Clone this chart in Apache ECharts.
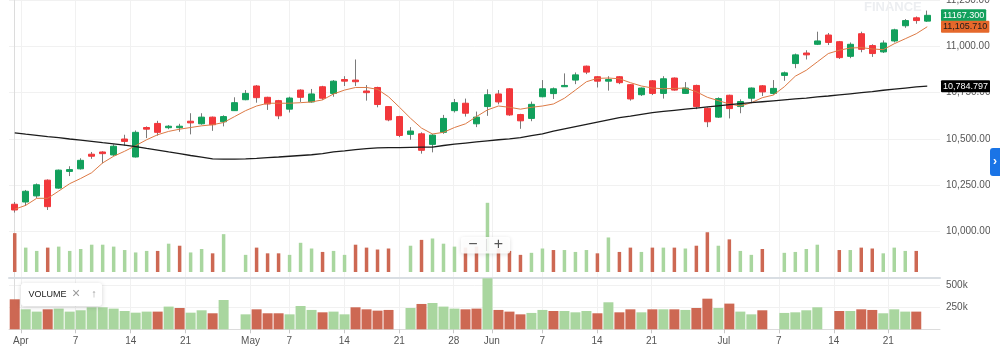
<!DOCTYPE html>
<html><head><meta charset="utf-8">
<script src="https://cdn.jsdelivr.net/npm/echarts@6.0.0/dist/echarts.min.js"></script>
<style>html,body{margin:0;padding:0;background:#fff;overflow:hidden}#c{width:1000px;height:357px}</style>
</head><body><div id="c"></div>
<script>
// ---- data (trading-day slots) ----
const tickLabels = ['Apr','7','14','21','May','7','14','21','28','Jun','7','14','21','Jul','7','14','21'];
const tickAt = [0.55,5.53,10.55,15.53,21.45,24.97,29.97,34.98,39.93,43.4,47.98,52.96,57.93,64.5,69.5,74.5,79.45];

const openP = [10148,10160,10193,10278,10235,10325,10339,10418,10430,10414,
 10500,10403,10562,10584,10561,10561,10596,10582,10618,10593,
 10653,10712,10786,10725,10707,10661,10764,10700,10782,10746,
 10821,10818,10759,10778,10675,10621,10525,10528,10471,10536,
 10653,10693,10582,10675,10743,10771,10632,10611,10728,10745,
 10782,10818,10893,10836,10812,10836,10793,10739,10814,10746,
 10829,10746,10789,10666,10618,10736,10675,10720,10787,10746,
 10843,10907,10964,11011,11061,11025,10946,11068,11004,10970,
 11029,11111,11154,11136];
const closeP = [10117,10218,10253,10135,10332,10335,10385,10407,10421,10461,
 10487,10536,10553,10536,10569,10569,10587,10618,10577,10621,
 10696,10746,10723,10689,10625,10721,10725,10743,10720,10812,
 10812,10809,10750,10686,10603,10519,10543,10439,10521,10611,
 10696,10639,10618,10739,10700,10630,10598,10687,10771,10771,
 10789,10846,10861,10812,10821,10804,10716,10775,10746,10825,
 10764,10775,10675,10593,10718,10664,10702,10775,10754,10773,
 10857,10954,10954,11029,11021,10939,11011,10984,10961,11018,
 11089,11139,11139,11167.3];
const lowP = [10103,10139,10182,10117,10232,10300,10335,10393,10368,10407,
 10464,10400,10505,10518,10553,10539,10525,10577,10544,10568,
 10652,10709,10696,10657,10607,10643,10700,10696,10711,10728,
 10786,10786,10707,10671,10596,10510,10496,10421,10428,10528,
 10643,10621,10564,10625,10687,10625,10555,10596,10725,10716,
 10782,10796,10850,10778,10761,10796,10707,10732,10737,10718,
 10761,10743,10661,10564,10614,10611,10639,10693,10732,10739,
 10814,10882,10929,11007,11007,10932,10936,10968,10943,10964,
 11021,11100,11122,11132];
const highP = [10160,10225,10260,10282,10335,10353,10396,10430,10434,10471,
 10523,10546,10568,10598,10575,10582,10639,10639,10621,10628,
 10725,10764,10791,10728,10711,10728,10768,10770,10787,10818,
 10839,10929,10791,10782,10678,10625,10564,10536,10528,10630,
 10716,10718,10648,10768,10764,10775,10636,10702,10818,10778,
 10854,10859,10896,10839,10839,10839,10796,10778,10818,10839,
 10832,10807,10793,10671,10725,10739,10714,10778,10791,10818,
 10864,10961,10979,11079,11072,11029,11021,11079,11011,11032,
 11095,11147,11161,11193];
const volume = [341000,227000,201000,227000,235000,201000,216000,250000,250000,235000,
 208000,189000,201000,201000,258000,242000,189000,216000,182000,333000,
 null,170000,227000,182000,182000,170000,265000,220000,193000,201000,
 170000,250000,227000,212000,220000,null,242000,288000,299000,258000,
 235000,227000,235000,580000,220000,201000,170000,186000,220000,208000,
 208000,193000,208000,182000,307000,193000,227000,193000,227000,227000,
 227000,220000,242000,348000,242000,292000,201000,170000,216000,null,
 186000,193000,216000,250000,null,208000,208000,227000,220000,182000,
 227000,201000,201000,null];
const volumeDir = ['d','u','u','d','u','u','u','u','u','u',
 'u','u','u','d','u','d','u','u','d','u',
 '-','u','d','d','d','u','u','u','d','u',
 'u','d','d','d','d','-','u','d','u','u',
 'u','d','d','u','d','d','d','u','u','d',
 'u','u','u','d','u','d','d','u','d','u',
 'd','u','d','d','u','d','u','u','d','-',
 'u','u','u','u','-','d','u','d','d','u',
 'u','u','d','-'];
const maShort = [10121,10142,10180,10180,10219,10259,10287,10318,10371,10407,
 10434,10464,10496,10523,10541,10553,10562,10571,10577,10589,
 10621,10653,10678,10693,10693,10693,10696,10700,10711,10743,
 10764,10778,10778,10768,10728,10671,10612,10559,10527,10536,
 10562,10582,10621,10657,10678,10671,10661,10671,10678,10689,
 10720,10764,10809,10827,10829,10825,10804,10786,10775,10771,
 10773,10775,10755,10725,10707,10689,10678,10696,10723,10737,
 10782,10839,10871,10916,10961,10979,10991,10993,10986,10982,
 11014,11041,11068,11105.71];
const maLong = [10533,10526,10520,10513,10507,10500,10494,10487,10480,10474,
 10467,10459,10449,10440,10430,10421,10411,10402,10393,10391,
 10391,10393,10396,10400,10403,10407,10411,10415,10421,10430,
 10436,10443,10448,10452,10453,10454,10455,10456,10456,10465,
 10472,10478,10484,10490,10496,10501,10507,10518,10528,10542,
 10555,10567,10579,10591,10603,10615,10623,10633,10642,10649,
 10655,10661,10667,10673,10679,10685,10691,10696,10701,10706,
 10711,10716,10721,10727,10732,10738,10744,10750,10756,10763,
 10769,10775,10781,10784.797];

// ---- styling / build ----
const FONT = '"Liberation Sans", Arial, Helvetica, sans-serif';
const UP = '#12a05c', DOWN = '#f2373b', VUP = '#a9d69f', VDOWN = '#cd6853';
const GRID_C = '#f1f1f1', AXIS_C = '#dcdcdc';
const X_MIN = -0.52, X_MAX = 84.16;
const last = a => a[a.length - 1];
const fmt3 = v => Number(v).toLocaleString('en-US', {minimumFractionDigits: 3, maximumFractionDigits: 3});
function tickName(v) {
  let k = 0, b = Infinity;
  tickAt.forEach((t, j) => { const d = Math.abs(t - v); if (d < b) { b = d; k = j; } });
  return tickLabels[k];
}
const candles = openP.map((o, i) => [i, o, closeP[i], lowP[i], highP[i]]);
const bodies = openP.map((o, i) => [i, o, closeP[i], Math.min(o, closeP[i]), Math.max(o, closeP[i])]);
const volData = volume.map((v, i) => ({value: [i, v], itemStyle: {color: volumeDir[i] === 'd' ? VDOWN : VUP}}))
  .filter(d => d.value[1] != null);
const lineData = arr => arr.map((v, i) => [i, v]);
function priceTag(val, bg, fg, fmt) {
  return {
    silent: true, symbol: ['none', 'none'], animation: false, precision: 3,
    lineStyle: {color: 'rgba(0,0,0,0)', width: 0, opacity: 1},
    label: {show: true, position: 'end', distance: 1, formatter: p => fmt(p.value), opacity: 1,
      backgroundColor: bg, color: fg, padding: [2, 2, 1, 2], fontSize: 9, fontFamily: FONT, borderRadius: 1},
    emphasis: {disabled: true},
    data: [{yAxis: val}]
  };
}
const gridBase = {left: 9, right: 60, outerBoundsMode: 'none', containLabel: false};
const xBase = {type: 'value', min: X_MIN, max: X_MAX};

const option = {
  animation: false,
  backgroundColor: '#fff',
  textStyle: {fontFamily: FONT},
  grid: [
    Object.assign({top: 0, height: 278}, gridBase),
    Object.assign({top: 0, height: 272}, gridBase),
    Object.assign({top: 278, height: 51.3}, gridBase)
  ],
  xAxis: [
    Object.assign({gridIndex: 0, axisLine: {show: false}, axisTick: {show: false, customValues: tickAt},
      axisLabel: {show: false}, splitLine: {show: true, lineStyle: {color: GRID_C}}}, xBase),
    Object.assign({gridIndex: 1, show: false}, xBase),
    Object.assign({gridIndex: 2, axisLine: {show: true, lineStyle: {color: AXIS_C}},
      axisTick: {show: true, customValues: tickAt, length: 4, lineStyle: {color: '#c8c8c8'}},
      axisLabel: {show: true, customValues: tickAt, formatter: v => tickName(v), color: '#555', fontSize: 10, margin: 7, fontFamily: FONT},
      splitLine: {show: true, lineStyle: {color: GRID_C}}}, xBase),
    Object.assign({gridIndex: 2, position: 'top', axisLine: {show: true, lineStyle: {color: '#d9dee3', width: 2}},
      axisTick: {show: false}, axisLabel: {show: false}, splitLine: {show: false}}, xBase)
  ],
  yAxis: [
    {gridIndex: 0, type: 'value', position: 'right', min: 9750, max: 11250, interval: 250,
      axisLine: {show: true, lineStyle: {color: AXIS_C}}, axisTick: {show: false},
      axisLabel: {formatter: v => fmt3(v), color: '#555', fontSize: 10, margin: 6, showMinLabel: false, fontFamily: FONT},
      splitLine: {show: true, lineStyle: {color: GRID_C}}},
    {gridIndex: 1, type: 'value', min: 35000, max: 2177000, show: false},
    {gridIndex: 2, type: 'value', position: 'right', min: 0, max: 583000, interval: 250000,
      axisLine: {show: true, lineStyle: {color: AXIS_C}}, axisTick: {show: false},
      axisLabel: {formatter: v => (v / 1000) + 'k', color: '#555', fontSize: 10, margin: 6, showMinLabel: false, fontFamily: FONT},
      splitLine: {show: true, lineStyle: {color: GRID_C}}}
  ],
  series: [
    {type: 'bar', name: 'volOverlay', xAxisIndex: 1, yAxisIndex: 1, data: volData, barWidth: 3.5, z: 1, silent: true},
    {type: 'candlestick', name: 'wick', xAxisIndex: 0, yAxisIndex: 0, data: candles,
      encode: {x: 0, y: [1, 2, 3, 4]}, barWidth: 0.5, z: 2, silent: true,
      itemStyle: {color: '#7a7a7a', color0: '#7a7a7a', borderColor: '#7a7a7a', borderColor0: '#7a7a7a', borderWidth: 1}},
    {type: 'candlestick', name: 'price', xAxisIndex: 0, yAxisIndex: 0, data: bodies, clip: false,
      encode: {x: 0, y: [1, 2, 3, 4]}, barWidth: 6.5, z: 3, silent: true,
      itemStyle: {color: UP, color0: DOWN, borderColor: UP, borderColor0: DOWN, borderWidth: 1},
      markLine: priceTag(last(closeP), UP, '#fff', v => Number(v).toFixed(3))},
    {type: 'line', name: 'maShort', xAxisIndex: 0, yAxisIndex: 0, data: lineData(maShort), showSymbol: false, z: 4, silent: true, clip: false,
      lineStyle: {color: '#dd7a45', width: 1},
      markLine: priceTag(last(maShort), '#e5682b', '#1a1a1a', fmt3)},
    {type: 'line', name: 'maLong', xAxisIndex: 0, yAxisIndex: 0, data: lineData(maLong), showSymbol: false, z: 4, silent: true, clip: false,
      lineStyle: {color: '#1c1c1c', width: 1.3},
      markLine: priceTag(last(maLong), '#000', '#fff', fmt3)},
    {type: 'bar', name: 'volume', xAxisIndex: 2, yAxisIndex: 2, data: volData, barWidth: 10, z: 2, silent: true}
  ],
  graphic: [
    {type: 'text', left: 864, top: 1, z: 0, silent: true,
      style: {text: 'FINANCE', fill: '#eceef1', font: 'bold 13px ' + FONT}},
    {type: 'rect', shape: {x: 990, y: 0, width: 10, height: 357}, style: {fill: '#fff'}, z: 50, silent: true},
    {type: 'rect', shape: {x: 990, y: 148, width: 12, height: 28, r: [3, 0, 0, 3]}, style: {fill: '#1a74e6'}, z: 51, silent: true},
    {type: 'text', x: 995, y: 162, z: 52, silent: true,
      style: {text: '›', fill: '#fff', font: 'bold 12px ' + FONT, textAlign: 'center', textVerticalAlign: 'middle'}},
    {type: 'rect', shape: {x: 21, y: 283, width: 81, height: 23, r: 3}, z: 40, silent: true,
      style: {fill: '#fff', shadowBlur: 5, shadowColor: 'rgba(0,0,0,0.18)', shadowOffsetY: 1}},
    {type: 'text', x: 28.5, y: 294.5, z: 41, silent: true,
      style: {text: 'VOLUME', fill: '#222', font: '500 9px ' + FONT, textVerticalAlign: 'middle'}},
    {type: 'text', x: 76, y: 294, z: 41, silent: true,
      style: {text: '×', fill: '#9a9a9a', font: '14px ' + FONT, textAlign: 'center', textVerticalAlign: 'middle'}},
    {type: 'text', x: 94, y: 294, z: 41, silent: true,
      style: {text: '↑', fill: '#a0a0a0', font: '11px ' + FONT, textAlign: 'center', textVerticalAlign: 'middle'}},
    {type: 'rect', shape: {x: 461, y: 237, width: 49, height: 16.5, r: 2}, z: 40, silent: true,
      style: {fill: 'rgba(255,255,255,0.9)', shadowBlur: 4, shadowColor: 'rgba(0,0,0,0.15)', shadowOffsetY: 1}},
    {type: 'text', x: 473, y: 244.5, z: 41, silent: true,
      style: {text: '−', fill: '#555', font: '16px ' + FONT, textAlign: 'center', textVerticalAlign: 'middle'}},
    {type: 'line', shape: {x1: 486.5, y1: 239, x2: 486.5, y2: 251}, z: 41, silent: true, style: {stroke: '#dddddd', lineWidth: 1}},
    {type: 'text', x: 498.5, y: 244.5, z: 41, silent: true,
      style: {text: '+', fill: '#555', font: '16px ' + FONT, textAlign: 'center', textVerticalAlign: 'middle'}}
  ]
};
const chart = echarts.init(document.getElementById('c'), null, {renderer: 'canvas'});
chart.setOption(option);
</script>
</body></html>
